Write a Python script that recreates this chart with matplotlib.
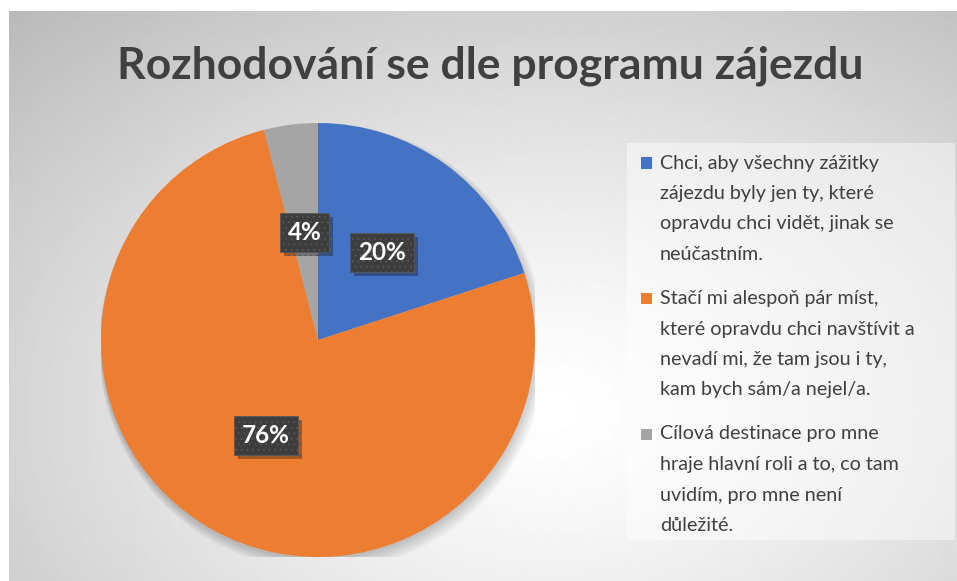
import numpy as np
import matplotlib.pyplot as plt
from matplotlib.patches import Rectangle, Circle
import matplotlib.patheffects as pe

W, H = 957, 581

title = "Rozhodování se dle programu zájezdu"
categories = [
    "Chci, aby všechny zážitky\nzájezdu byly jen ty, které\nopravdu chci vidět, jinak se\nneúčastním.",
    "Stačí mi alespoň pár míst,\nkteré opravdu chci navštívit a\nnevadí mi, že tam jsou i ty,\nkam bych sám/a nejel/a.",
    "Cílová destinace pro mne\nhraje hlavní roli a to, co tam\nuvidím, pro mne není\ndůležité.",
]
shares = [20, 76, 4]
colors = ["#4472C4", "#ED7D31", "#A5A5A5"]

plt.rcParams['font.family'] = ['Lato', 'DejaVu Sans']
plt.rcParams['hatch.linewidth'] = 0.6
fig = plt.figure(figsize=(W / 100, H / 100), dpi=100)


def fx(x):
    return x / W


def fy(y):
    return 1 - y / H


# chart area background: soft radial gradient
bg = fig.add_axes([fx(9), 0, (W - 9) / W, (H - 11) / H], zorder=-5)
yy, xx = np.mgrid[0:570, 0:947]
d = np.hypot((xx - 540) / 620, (yy - 400) / 430)
vals = 1 - 0.2 * np.clip(d, 0, 1.5) ** 1.3
bg.imshow(vals, cmap='gray', vmin=0, vmax=1, aspect='auto', interpolation='bilinear')
bg.set_axis_off()

# pie
cx, cy, r = 318, 340, 217
ax = fig.add_axes([fx(cx - r), fy(cy + r), 2 * r / W, 2 * r / H])
ax.set_xlim(-1, 1)
ax.set_ylim(-1, 1)
ax.set_aspect('equal')
ax.set_axis_off()

# soft shadow under pie
for k in range(6):
    ax.add_patch(Circle((0.004 * k, -0.012 - 0.004 * k), 1.0 + 0.006 * k,
                        fc='black', ec='none', alpha=0.035, zorder=0))

wedges, texts, autotexts = ax.pie(
    shares, colors=colors, startangle=90, counterclock=False,
    autopct='%1.0f%%', pctdistance=0.5, radius=1,
    wedgeprops=dict(linewidth=0, zorder=1),
    textprops=dict(color='white', fontsize=17.5, fontweight='bold'))
ax.set_xlim(-1, 1)
ax.set_ylim(-1, 1)

for t in autotexts:
    t.set_zorder(5)
    t.set_bbox(dict(boxstyle='square,pad=0.33', fc='#3d3d3d', ec='#585858',
                    lw=0.6, hatch='...'))
    t.get_bbox_patch().set_path_effects([
        pe.SimplePatchShadow(offset=(3, -3), shadow_rgbFace='black', alpha=0.3),
        pe.Normal()])

# title
fig.text(fx(490), fy(79), title, ha='center', va='baseline',
         fontsize=32, fontweight='bold', color='#404040')

# legend
fig.add_artist(Rectangle((fx(627), fy(540)), 328 / W, 397 / H,
                         transform=fig.transFigure, fc='white', alpha=0.45,
                         ec='none', zorder=1))
line_step = 30.5
entry_step = 135.5
for i, (lab, col) in enumerate(zip(categories, colors)):
    y0 = 163 + i * entry_step
    fig.add_artist(Rectangle((fx(641), fy(y0 + 5.5)), 11 / W, 11 / H,
                             transform=fig.transFigure, fc=col, ec='none',
                             zorder=2))
    for j, line in enumerate(lab.split('\n')):
        fig.text(fx(660), fy(y0 + j * line_step), line, ha='left',
                 va='center', fontsize=14.2, color='#404040', zorder=3)

fig.savefig('out.png', dpi=100)
